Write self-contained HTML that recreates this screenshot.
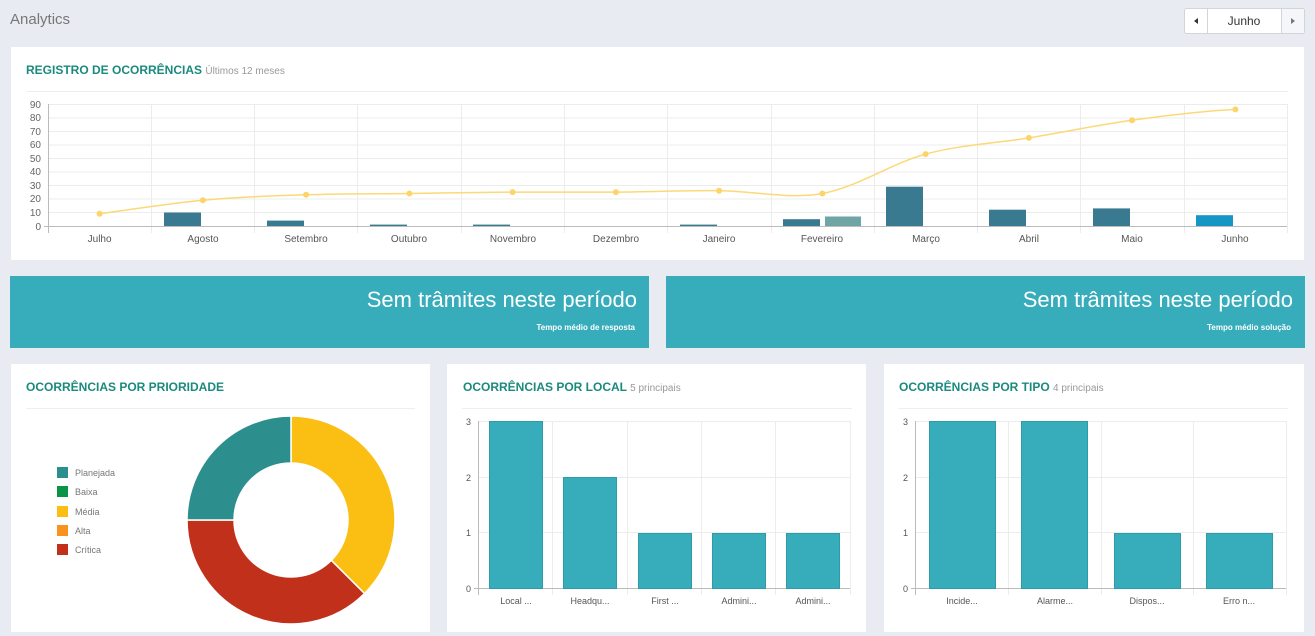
<!DOCTYPE html>
<html><head><meta charset="utf-8"><style>
html,body{margin:0;padding:0;width:1315px;height:636px;overflow:hidden;background:#e8ebf2;font-family:"Liberation Sans",sans-serif}
</style></head><body>
<svg width="1315" height="636" viewBox="0 0 1315 636" xmlns="http://www.w3.org/2000/svg" font-family="Liberation Sans, sans-serif">
<rect width="1315" height="636" fill="#e8ebf2"/>
<text x="10" y="24" font-size="15" fill="#777">Analytics</text>
<rect x="1184.5" y="8.5" width="120" height="25" rx="2" fill="#fff" stroke="#d4d4d4"/>
<rect x="1281.5" y="9" width="22.5" height="24" fill="#f5f6f9"/>
<line x1="1207.5" y1="9" x2="1207.5" y2="33" stroke="#d4d4d4"/>
<line x1="1281.5" y1="9" x2="1281.5" y2="33" stroke="#d4d4d4"/>
<path d="M1194 21 L1198 18 L1198 24Z" fill="#333"/>
<path d="M1295 21 L1291 18 L1291 24Z" fill="#777"/>
<text x="1244" y="25" font-size="12" fill="#333" text-anchor="middle">Junho</text>

<rect x="11" y="47" width="1293" height="213" fill="#fff"/>
<text x="26" y="74" font-size="12" font-weight="bold" fill="#1a8a7e">REGISTRO DE OCORRÊNCIAS <tspan font-weight="normal" font-size="10" fill="#999">Últimos 12 meses</tspan></text>
<line x1="26" y1="91.5" x2="1288" y2="91.5" stroke="#eee"/>
<g stroke="#ececec">
<line x1="48" y1="104.5" x2="1287" y2="104.5"/><line x1="48" y1="118" x2="1287" y2="118"/><line x1="48" y1="131.5" x2="1287" y2="131.5"/><line x1="48" y1="145" x2="1287" y2="145"/><line x1="48" y1="158.5" x2="1287" y2="158.5"/><line x1="48" y1="172" x2="1287" y2="172"/><line x1="48" y1="185.5" x2="1287" y2="185.5"/><line x1="48" y1="199" x2="1287" y2="199"/><line x1="48" y1="212.5" x2="1287" y2="212.5"/>
<line x1="151.5" y1="104" x2="151.5" y2="233"/><line x1="254.5" y1="104" x2="254.5" y2="233"/><line x1="357.5" y1="104" x2="357.5" y2="233"/><line x1="461.5" y1="104" x2="461.5" y2="233"/><line x1="564.5" y1="104" x2="564.5" y2="233"/><line x1="667.5" y1="104" x2="667.5" y2="233"/><line x1="771.5" y1="104" x2="771.5" y2="233"/><line x1="874.5" y1="104" x2="874.5" y2="233"/><line x1="977.5" y1="104" x2="977.5" y2="233"/><line x1="1080.5" y1="104" x2="1080.5" y2="233"/><line x1="1184.5" y1="104" x2="1184.5" y2="233"/><line x1="1287.5" y1="104" x2="1287.5" y2="233"/>
</g>
<line x1="48.5" y1="104" x2="48.5" y2="233" stroke="#bbb"/>
<line x1="44" y1="226.5" x2="1287" y2="226.5" stroke="#bbb"/>
<g font-size="10" fill="#666" text-anchor="end">
<text x="41" y="108">90</text><text x="41" y="121">80</text><text x="41" y="135">70</text><text x="41" y="148">60</text><text x="41" y="162">50</text><text x="41" y="175">40</text><text x="41" y="189">30</text><text x="41" y="202">20</text><text x="41" y="216">10</text><text x="41" y="230">0</text>
</g>
<g font-size="10" fill="#555" text-anchor="middle">
<text x="99.6" y="242">Julho</text><text x="203" y="242">Agosto</text><text x="306" y="242">Setembro</text><text x="409" y="242">Outubro</text><text x="513" y="242">Novembro</text><text x="616" y="242">Dezembro</text><text x="719" y="242">Janeiro</text><text x="822" y="242">Fevereiro</text><text x="926" y="242">Março</text><text x="1029" y="242">Abril</text><text x="1132" y="242">Maio</text><text x="1235" y="242">Junho</text>
</g>
<g fill="#3a7a91">
<rect x="164" y="212.5" width="37" height="13.5"/>
<rect x="267" y="220.6" width="37" height="5.4"/>
<rect x="370" y="224.6" width="37" height="1.4"/>
<rect x="473" y="224.6" width="37" height="1.4"/>
<rect x="680" y="224.6" width="37" height="1.4"/>
<rect x="783" y="219.2" width="37" height="6.8"/>
<rect x="886" y="186.7" width="37" height="39.3"/>
<rect x="989" y="209.7" width="37" height="16.3"/>
<rect x="1093" y="208.4" width="37" height="17.6"/>
</g>
<rect x="825" y="216.5" width="36" height="9.5" fill="#6fa5a5"/>
<rect x="1196" y="215.2" width="37" height="10.8" fill="#1596c4"/>
<path d="M99.6,213.8 C116.8,211.5 168.5,203.4 202.9,200.2 C237.3,197 271.7,195.9 306.1,194.8 C340.5,193.7 375,193.9 409.4,193.5 C443.8,193 478.2,192.3 512.6,192.1 C547,191.9 581.5,192.3 615.9,192.1 C650.3,191.9 684.7,190.5 719.1,190.7 C753.5,190.9 788,199.6 822.4,193.5 C856.8,187.4 891.2,163.4 925.6,154.1 C960,144.8 994.5,143.55 1028.9,137.9 C1063.3,132.25 1097.7,124.95 1132.1,120.2 C1166.5,115.45 1201,111.2 1235.4,109.4" fill="none" stroke="#fcd878" stroke-width="1.5"/>
<g fill="#fcd46a">
<circle cx="99.6" cy="213.8" r="3"/><circle cx="202.9" cy="200.2" r="3"/><circle cx="306.1" cy="194.8" r="3"/><circle cx="409.4" cy="193.5" r="3"/><circle cx="512.6" cy="192.1" r="3"/><circle cx="615.9" cy="192.1" r="3"/><circle cx="719.1" cy="190.7" r="3"/><circle cx="822.4" cy="193.5" r="3"/><circle cx="925.6" cy="154.1" r="3"/><circle cx="1028.9" cy="137.9" r="3"/><circle cx="1132.1" cy="120.2" r="3"/><circle cx="1235.4" cy="109.4" r="3"/>
</g>

<rect x="10" y="276" width="639" height="72" fill="#37acbb"/>
<rect x="666" y="276" width="639" height="72" fill="#37acbb"/>
<text x="637" y="307" font-size="22" fill="#fff" text-anchor="end">Sem trâmites neste período</text>
<text x="635" y="330" font-size="8" font-weight="bold" fill="#fff" text-anchor="end">Tempo médio de resposta</text>
<text x="1293" y="307" font-size="22" fill="#fff" text-anchor="end">Sem trâmites neste período</text>
<text x="1291" y="330" font-size="8" font-weight="bold" fill="#fff" text-anchor="end">Tempo médio solução</text>

<rect x="11" y="364" width="419" height="268" fill="#fff"/>
<rect x="447" y="364" width="419" height="268" fill="#fff"/>
<rect x="884" y="364" width="420" height="268" fill="#fff"/>

<text x="26" y="391" font-size="12" font-weight="bold" fill="#1a8a7e">OCORRÊNCIAS POR PRIORIDADE</text>
<line x1="26" y1="408.5" x2="415" y2="408.5" stroke="#eceef4"/>
<g font-size="9" fill="#777">
<rect x="57" y="467" width="11" height="11" fill="#2c8f8e"/><text x="75" y="476">Planejada</text>
<rect x="57" y="486" width="11" height="11" fill="#0b9447"/><text x="75" y="495">Baixa</text>
<rect x="57" y="506" width="11" height="11" fill="#fbbf13"/><text x="75" y="515">Média</text>
<rect x="57" y="525" width="11" height="11" fill="#f7931e"/><text x="75" y="534">Alta</text>
<rect x="57" y="544" width="11" height="11" fill="#c0301a"/><text x="75" y="553">Crítica</text>
</g>
<g stroke="#fff" stroke-width="1.5">
<path d="M291,416 A104,104 0 0 1 364.5,593.5 L331.3,560.3 A57,57 0 0 0 291,463 Z" fill="#fbbf13"/>
<path d="M364.5,593.5 A104,104 0 0 1 187,520 L234,520 A57,57 0 0 0 331.3,560.3 Z" fill="#c0301a"/>
<path d="M187,520 A104,104 0 0 1 291,416 L291,463 A57,57 0 0 0 234,520 Z" fill="#2c8f8e"/>
</g>

<text x="463" y="391" font-size="12" font-weight="bold" fill="#1a8a7e">OCORRÊNCIAS POR LOCAL <tspan font-weight="normal" font-size="10" fill="#999">5 principais</tspan></text>
<line x1="462" y1="408.5" x2="852" y2="408.5" stroke="#eceef4"/>
<g stroke="#ececec">
<line x1="478" y1="421.5" x2="850" y2="421.5"/><line x1="478" y1="477.5" x2="850" y2="477.5"/><line x1="478" y1="532.5" x2="850" y2="532.5"/>
<line x1="552.5" y1="421" x2="552.5" y2="595"/><line x1="627.5" y1="421" x2="627.5" y2="595"/><line x1="701.5" y1="421" x2="701.5" y2="595"/><line x1="775.5" y1="421" x2="775.5" y2="595"/><line x1="850.5" y1="421" x2="850.5" y2="595"/>
</g>
<line x1="478.5" y1="421" x2="478.5" y2="595" stroke="#bbb"/>
<line x1="474" y1="588.5" x2="850" y2="588.5" stroke="#bbb"/>
<g font-size="9" fill="#555" text-anchor="end"><text x="471" y="425">3</text><text x="471" y="481">2</text><text x="471" y="536">1</text><text x="471" y="592">0</text></g>
<g fill="#37acbb" stroke="#2e9ca8">
<rect x="489.5" y="421.5" width="53" height="167"/>
<rect x="563.5" y="477.5" width="53" height="111"/>
<rect x="638.5" y="533.5" width="53" height="55"/>
<rect x="712.5" y="533.5" width="53" height="55"/>
<rect x="786.5" y="533.5" width="53" height="55"/>
</g>
<g font-size="9" fill="#555" text-anchor="middle"><text x="516" y="604">Local ...</text><text x="590" y="604">Headqu...</text><text x="665" y="604">First ...</text><text x="739" y="604">Admini...</text><text x="813" y="604">Admini...</text></g>

<text x="899" y="391" font-size="12" font-weight="bold" fill="#1a8a7e">OCORRÊNCIAS POR TIPO <tspan font-weight="normal" font-size="10" fill="#999">4 principais</tspan></text>
<line x1="899" y1="408.5" x2="1288" y2="408.5" stroke="#eceef4"/>
<g stroke="#ececec">
<line x1="915" y1="421.5" x2="1286" y2="421.5"/><line x1="915" y1="477.5" x2="1286" y2="477.5"/><line x1="915" y1="532.5" x2="1286" y2="532.5"/>
<line x1="1008.5" y1="421" x2="1008.5" y2="595"/><line x1="1101.5" y1="421" x2="1101.5" y2="595"/><line x1="1193.5" y1="421" x2="1193.5" y2="595"/><line x1="1286.5" y1="421" x2="1286.5" y2="595"/>
</g>
<line x1="915.5" y1="421" x2="915.5" y2="595" stroke="#bbb"/>
<line x1="911" y1="588.5" x2="1286" y2="588.5" stroke="#bbb"/>
<g font-size="9" fill="#555" text-anchor="end"><text x="908" y="425">3</text><text x="908" y="481">2</text><text x="908" y="536">1</text><text x="908" y="592">0</text></g>
<g fill="#37acbb" stroke="#2e9ca8">
<rect x="929.5" y="421.5" width="66" height="167"/>
<rect x="1021.5" y="421.5" width="66" height="167"/>
<rect x="1114.5" y="533.5" width="66" height="55"/>
<rect x="1206.5" y="533.5" width="66" height="55"/>
</g>
<g font-size="9" fill="#555" text-anchor="middle"><text x="962" y="604">Incide...</text><text x="1055" y="604">Alarme...</text><text x="1147" y="604">Dispos...</text><text x="1239" y="604">Erro n...</text></g>
</svg>
</body></html>
